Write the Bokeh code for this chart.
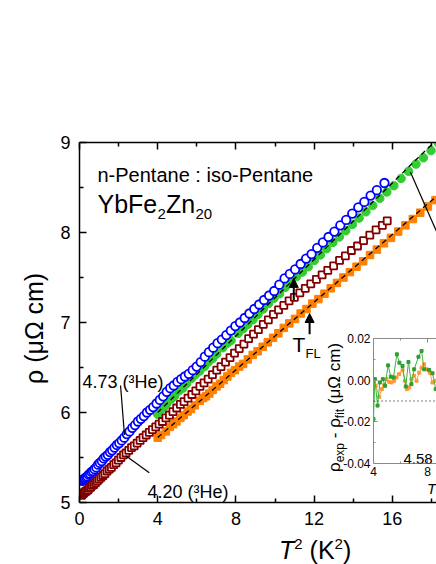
import math
from bokeh.plotting import figure
from bokeh.models import (Range1d, LinearAxis, FixedTicker, PrintfTickFormatter,
                          Label, Arrow, NormalHead, Span, Div)
from bokeh.embed import file_html
from bokeh.resources import INLINE

# ---------------- data ----------------
BLUE_T2 = [0.14, 0.18, 0.23, 0.28, 0.34, 0.40, 0.47, 0.54, 0.61, 0.69,
           0.77, 0.86, 0.95, 1.04, 1.14, 1.24, 1.34, 1.45, 1.56, 1.67,
           1.79, 1.91, 2.03, 2.16, 2.29, 2.42, 2.56, 2.70, 2.84, 2.99,
           3.14, 3.29, 3.45, 3.61, 3.77, 3.94, 4.11, 4.28, 4.46, 4.64,
           4.82, 5.01, 5.20, 5.39, 5.59, 5.79, 5.99, 6.20, 6.41, 6.62,
           6.84, 7.06, 7.28, 7.51, 7.74, 7.97, 8.21, 8.45, 8.69, 8.94,
           9.19, 9.44, 9.70, 9.96, 10.22, 10.49, 10.76, 11.03, 11.31, 11.59,
           11.87, 12.16, 12.45, 12.74, 13.04, 13.34, 13.64, 13.95, 14.26, 14.57,
           14.89, 15.21, 15.60]
BLUE_RHO = [5.24, 5.25, 5.26, 5.27, 5.28, 5.29, 5.31, 5.32, 5.34, 5.35,
            5.37, 5.39, 5.42, 5.44, 5.46, 5.49, 5.51, 5.53, 5.56, 5.58,
            5.61, 5.64, 5.66, 5.69, 5.72, 5.76, 5.79, 5.83, 5.86, 5.90,
            5.93, 5.96, 6.00, 6.03, 6.06, 6.10, 6.14, 6.18, 6.23, 6.27,
            6.30, 6.34, 6.37, 6.40, 6.43, 6.47, 6.51, 6.56, 6.62, 6.67,
            6.72, 6.77, 6.81, 6.86, 6.91, 6.96, 7.00, 7.05, 7.10, 7.15,
            7.20, 7.25, 7.30, 7.35, 7.42, 7.49, 7.54, 7.59, 7.65, 7.71,
            7.76, 7.83, 7.89, 7.95, 8.01, 8.08, 8.14, 8.21, 8.28, 8.34,
            8.41, 8.47, 8.55]

RED_T2 = [0.10, 0.14, 0.19, 0.24, 0.30, 0.36, 0.43, 0.50, 0.57, 0.65,
          0.73, 0.82, 0.91, 1.00, 1.10, 1.20, 1.30, 1.41, 1.52, 1.63,
          1.75, 1.87, 1.99, 2.12, 2.25, 2.38, 2.52, 2.66, 2.80, 2.95,
          3.10, 3.25, 3.41, 3.57, 3.73, 3.90, 4.07, 4.24, 4.42, 4.60,
          4.78, 4.97, 5.16, 5.35, 5.55, 5.75, 5.95, 6.16, 6.37, 6.58,
          6.80, 7.02, 7.24, 7.47, 7.70, 7.93, 8.17, 8.41, 8.65, 8.90,
          9.15, 9.40, 9.66, 9.92, 10.18, 10.45, 10.72, 10.99, 11.27, 11.55,
          11.83, 12.12, 12.41, 12.70, 13.00, 13.30, 13.60, 13.91, 14.22, 14.53,
          14.85, 15.17, 15.49, 15.74]
RED_RHO = [5.08, 5.09, 5.10, 5.11, 5.12, 5.13, 5.14, 5.16, 5.17, 5.19,
           5.20, 5.22, 5.24, 5.26, 5.28, 5.30, 5.32, 5.35, 5.37, 5.39,
           5.42, 5.44, 5.47, 5.50, 5.53, 5.55, 5.58, 5.61, 5.63, 5.66,
           5.69, 5.72, 5.75, 5.78, 5.81, 5.84, 5.87, 5.90, 5.94, 5.97,
           6.01, 6.05, 6.09, 6.12, 6.16, 6.20, 6.24, 6.29, 6.33, 6.37,
           6.42, 6.47, 6.51, 6.56, 6.61, 6.66, 6.71, 6.76, 6.82, 6.87,
           6.92, 6.98, 7.03, 7.09, 7.14, 7.19, 7.24, 7.28, 7.33, 7.38,
           7.43, 7.48, 7.53, 7.58, 7.63, 7.69, 7.74, 7.80, 7.85, 7.91,
           7.97, 8.03, 8.08, 8.13]

GREEN_T2 = [4.00, 4.10, 4.30, 4.47, 4.69, 4.86, 5.08, 5.28, 5.48, 5.73,
            5.92, 6.15, 6.39, 6.59, 6.81, 7.01, 7.33, 7.56, 7.75, 8.12,
            8.37, 8.61, 8.87, 9.13, 9.40, 9.67, 9.95, 10.23, 10.52, 10.81,
            11.10, 11.40, 11.70, 12.01, 12.32, 12.64, 12.96, 13.29, 13.62, 13.96,
            14.30, 14.65, 15.00, 15.36, 15.72, 16.08, 16.45, 16.83, 17.21, 17.59,
            17.98, 18.37, 18.77]
GREEN_RHO = [5.98, 6.02, 6.05, 6.10, 6.15, 6.18, 6.24, 6.27, 6.32, 6.38,
             6.42, 6.46, 6.51, 6.56, 6.60, 6.65, 6.72, 6.77, 6.80, 6.88,
             6.93, 6.98, 7.03, 7.09, 7.15, 7.21, 7.27, 7.32, 7.39, 7.45,
             7.51, 7.56, 7.62, 7.69, 7.75, 7.82, 7.89, 7.95, 8.02, 8.09,
             8.16, 8.23, 8.30, 8.38, 8.45, 8.52, 8.60, 8.68, 8.76, 8.83,
             8.91, 8.99, 9.07]

ORANGE_T2 = [4.00, 4.17, 4.42, 4.62, 4.79, 4.96, 5.16, 5.33, 5.53, 5.70,
             5.90, 6.15, 6.32, 6.47, 6.64, 6.81, 7.01, 7.19, 7.38, 7.56,
             7.75, 7.95, 8.17, 8.37, 8.61, 8.86, 9.11, 9.37, 9.63, 9.90,
             10.17, 10.45, 10.73, 11.02, 11.31, 11.61, 11.91, 12.22, 12.53, 12.85,
             13.17, 13.50, 13.83, 14.17, 14.51, 14.86, 15.21, 15.57, 15.93, 16.30,
             16.67, 17.05, 17.43, 17.82, 18.21, 18.61]
ORANGE_RHO = [5.72, 5.75, 5.79, 5.84, 5.87, 5.90, 5.94, 5.97, 6.01, 6.04,
              6.08, 6.13, 6.16, 6.18, 6.21, 6.25, 6.29, 6.32, 6.36, 6.40,
              6.44, 6.47, 6.51, 6.54, 6.59, 6.64, 6.68, 6.73, 6.78, 6.83,
              6.88, 6.94, 6.99, 7.04, 7.10, 7.15, 7.21, 7.26, 7.32, 7.38,
              7.44, 7.50, 7.56, 7.62, 7.68, 7.75, 7.81, 7.88, 7.94, 8.01,
              8.08, 8.15, 8.22, 8.29, 8.36, 8.43]

# T^2 fits rho = rho0 + A*T^2 (dashed lines)
GREEN_FIT = (5.15, 0.2125)
ORANGE_FIT = (4.97, 0.188)
FIT_RANGE = [4.0, 19.0]

# T_FL arrows (T^2 position, start rho, end rho)
TFL_T2 = [10.96, 11.77]
TFL_RHO0 = [7.25, 6.87]
TFL_RHO1 = [7.49, 7.10]

# inset residuals
INSET_G_T2 = [4.00, 4.10, 4.30, 4.47, 4.69, 4.86, 5.08, 5.28, 5.48, 5.73,
              5.92, 6.15, 6.39, 6.59, 6.81, 7.01, 7.33, 7.56, 7.75, 8.12,
              8.37, 8.61, 8.87]
INSET_G_RES = [-0.0186, 0.0005, -0.0122, -0.0011, 0.0005, -0.0027, 0.0071, 0.0017, 0.0013, 0.0124,
               0.0084, 0.0068, -0.0030, 0.0087, -0.0019, 0.0052, 0.0112, 0.0140, 0.0052, 0.0049,
               0.0033, -0.0043, -0.0060]
INSET_O_T2 = [4.00, 4.17, 4.42, 4.62, 4.79, 4.96, 5.16, 5.33, 5.53, 5.70,
              5.90, 6.15, 6.32, 6.47, 6.64, 6.81, 7.01, 7.19, 7.38, 7.56,
              7.75, 7.95, 8.17, 8.37, 8.61, 8.86]
INSET_O_RES = [-0.0011, -0.0027, -0.0080, -0.0043, -0.0024, 0.0005, -0.0008, -0.0011, -0.0003, 0.0013,
               0.0029, 0.0048, -0.0003, -0.0043, -0.0035, 0.0005, 0.0021, -0.0003, 0.0036, 0.0060,
               0.0076, 0.0052, 0.0036, -0.0011, -0.0003, 0.0010]
INSET_LEVEL = -0.01

X_TICKS = [0, 4, 8, 12, 16, 20]
X_MINOR = [2, 6, 10, 14, 18]
Y_TICKS = [5, 6, 7, 8, 9]
Y_MINOR = [5.5, 6.5, 7.5, 8.5]

# ---------------- styles / geometry ----------------
FONT = "Liberation Sans"
BLUE, GREEN, RED, ORANGE = "#0000FF", "#33CC33", "#800000", "#FF8000"
W, H = 436, 564
F_LEFT, F_TOP, F_BOTTOM = 79, 142, 502     # page pixels of the main frame
X_PER, Y_PER = 19.55, 90.0
X_END = (W - F_LEFT) / X_PER


def dx(px):
    return (px - F_LEFT) / X_PER


def dy(py):
    return 5 + (F_BOTTOM - py) / Y_PER


p = figure(width=W, height=H, x_range=Range1d(0, X_END), y_range=Range1d(5, 9),
           output_backend="svg", toolbar_location=None,
           min_border_left=F_LEFT, min_border_right=0,
           min_border_top=F_TOP, min_border_bottom=H - F_BOTTOM)
p.outline_line_color = None
p.xgrid.grid_line_color = None
p.ygrid.grid_line_color = None
p.background_fill_color = "white"


def style_axis(ax, major=7, minor=4, lw=1.5, size="18px", standoff=9, color="black"):
    ax.axis_line_width = lw
    ax.axis_line_color = color
    ax.major_tick_in = major
    ax.major_tick_out = 0
    ax.minor_tick_in = minor
    ax.minor_tick_out = 0
    ax.major_tick_line_width = lw
    ax.minor_tick_line_width = lw
    ax.major_tick_line_color = color
    ax.minor_tick_line_color = color
    ax.major_label_text_font = FONT
    ax.major_label_text_font_size = size
    ax.major_label_text_color = "black"
    ax.major_label_standoff = standoff


p.xaxis.ticker = FixedTicker(ticks=X_TICKS, minor_ticks=X_MINOR)
p.yaxis.ticker = FixedTicker(ticks=Y_TICKS, minor_ticks=Y_MINOR)
style_axis(p.xaxis[0])
style_axis(p.yaxis[0])

top = LinearAxis(ticker=FixedTicker(ticks=X_TICKS, minor_ticks=X_MINOR))
style_axis(top)
top.major_label_text_color = None
p.add_layout(top, "above")

# data
p.scatter(ORANGE_T2, ORANGE_RHO, marker="square", size=7.5,
          fill_color=ORANGE, line_color=ORANGE)
p.scatter(GREEN_T2, GREEN_RHO, marker="circle", size=8.5,
          fill_color=GREEN, line_color=GREEN)
for (r0, a) in (GREEN_FIT, ORANGE_FIT):
    p.line(FIT_RANGE, [r0 + a * t for t in FIT_RANGE], line_color="black",
           line_width=1.3, line_dash="5 4")
p.scatter(RED_T2, RED_RHO, marker="square", size=7,
          fill_color="white", line_color=RED, line_width=1.8)
p.scatter(BLUE_T2, BLUE_RHO, marker="circle", size=8.5,
          fill_color="white", line_color=BLUE, line_width=1.8)

# leader lines
p.segment(x0=[2.10, 3.57, 16.93], y0=[6.30, 5.33, 8.67],
          x1=[2.30, 2.37, 19.6], y1=[5.75, 5.52, 7.35],
          line_color="black", line_width=1.2)

for t2, r0, r1 in zip(TFL_T2, TFL_RHO0, TFL_RHO1):
    p.add_layout(Arrow(end=NormalHead(size=9, fill_color="black", line_color="black"),
                       x_start=t2, y_start=r0, x_end=t2, y_end=r1,
                       line_color="black", line_width=2))


def lab(fig, x, y, text, size, style="normal", align="left", baseline="alphabetic", angle=0.0):
    fig.add_layout(Label(x=x, y=y, text=text, text_font=FONT, text_font_size=size,
                         text_font_style=style, text_align=align, text_baseline=baseline,
                         angle=angle, text_color="black"))


lab(p, dx(97), dy(174), "n-Pentane : iso-Pentane", "20px")
lab(p, dx(97), dy(203), "YbFe", "25px")
lab(p, dx(157), dy(213), "2", "15px")
lab(p, dx(165.5), dy(203), "Zn", "25px")
lab(p, dx(195), dy(213), "20", "15px")
lab(p, dx(82), dy(381), "4.73 (\u00b3He)", "18px")
lab(p, dx(147), dy(491), "4.20 (\u00b3He)", "18px")
lab(p, dx(292), dy(344), "T", "21px")
lab(p, dx(305), dy(353), "FL", "13px")

# ---------------- inset ----------------
I_LEFT, I_TOP, I_W, I_H = 326, 330, 110, 170
IF_LEFT, IF_TOP, IF_BOTTOM = 373, 338, 463
IX_PER = 13.5
IY_PER = (IF_BOTTOM - IF_TOP) / 0.06

inset = figure(width=I_W, height=I_H,
               x_range=Range1d(4, 4 + (I_LEFT + I_W - IF_LEFT) / IX_PER),
               y_range=Range1d(-0.04, 0.02),
               output_backend="svg", toolbar_location=None,
               min_border_left=IF_LEFT - I_LEFT, min_border_right=0,
               min_border_top=IF_TOP - I_TOP, min_border_bottom=I_TOP + I_H - IF_BOTTOM,
               styles={"position": "absolute", "left": f"{I_LEFT}px", "top": f"{I_TOP}px"})
inset.outline_line_color = None
inset.xgrid.grid_line_color = None
inset.ygrid.grid_line_color = None
inset.background_fill_color = "white"
inset.border_fill_alpha = 0

GRAY = "#8a8a8a"
inset.xaxis.ticker = FixedTicker(ticks=[4, 8, 12], minor_ticks=[6, 10])
inset.yaxis.ticker = FixedTicker(ticks=[-0.04, -0.02, 0.0, 0.02], minor_ticks=[-0.03, -0.01, 0.01])
inset.yaxis.formatter = PrintfTickFormatter(format="%.2f")
style_axis(inset.xaxis[0], major=4, minor=2, lw=1, size="12px", standoff=3, color=GRAY)
style_axis(inset.yaxis[0], major=4, minor=2, lw=1, size="12px", standoff=3, color=GRAY)
itop = LinearAxis(ticker=FixedTicker(ticks=[4, 8, 12], minor_ticks=[6, 10]))
style_axis(itop, major=4, minor=2, lw=1, size="12px", standoff=3, color=GRAY)
itop.major_label_text_color = None
inset.add_layout(itop, "above")

inset.add_layout(Span(location=INSET_LEVEL, dimension="width", line_color="black",
                      line_width=1, line_dash="1 3"))
inset.line(INSET_O_T2, INSET_O_RES, line_color="#FF9933", line_width=1)
inset.scatter(INSET_O_T2, INSET_O_RES, marker="square", size=3,
              fill_color="#FF9933", line_color="#FF9933")
inset.line(INSET_G_T2, INSET_G_RES, line_color="#3DB83D", line_width=1)
inset.scatter(INSET_G_T2, INSET_G_RES, marker="square", size=3,
              fill_color="#2E9E2E", line_color="#2E9E2E")


def ix(px):
    return 4 + (px - IF_LEFT) / IX_PER


def iy(py):
    return 0.02 - (py - IF_TOP) / IY_PER


lab(inset, ix(403), iy(458), "4.58", "15px")


# ---------------- texts outside the frames (HTML) ----------------
def text_div(html, left, top, w, h, fs, lh, extra=None):
    st = {"position": "absolute", "left": f"{left}px", "top": f"{top}px",
          "font-family": FONT, "font-size": f"{fs}px", "line-height": f"{lh}px",
          "color": "black", "white-space": "nowrap"}
    if extra:
        st.update(extra)
    inner = (f'<span style="font-family:{FONT};font-size:{fs}px;line-height:{lh}px;'
             f'white-space:nowrap">{html}</span>')
    return Div(text=inner, width=w, height=h, styles=st)


SUP = '<span style="font-size:15px;position:relative;top:-10px">2</span>'
xtitle = text_div(f'<i>T</i>{SUP} (K{SUP})', 274, 532, 90, 26, 25, 26)

ROT = {"transform": "rotate(-90deg)", "transform-origin": "0 0"}
ytitle = text_div('\u03c1 (\u03bc\u03a9 cm)', 14, 379, 112, 30, 25, 30, ROT)

SUB = 'font-size:12px;position:relative;top:4px'
iytitle = text_div(f'\u03c1<span style="{SUB}">exp</span> - '
                   f'\u03c1<span style="{SUB}">fit</span> (\u03bc\u03a9 cm)',
                   320, 467, 132, 20, 17, 20, ROT)

# inset x-axis title: only its first letter lies inside the picture
ixtitle = text_div('<i>T</i>', 422, 475, 12, 18, 15, 18)

open("out.html", "w").write(file_html([p, inset, xtitle, ytitle, iytitle, ixtitle], INLINE))
